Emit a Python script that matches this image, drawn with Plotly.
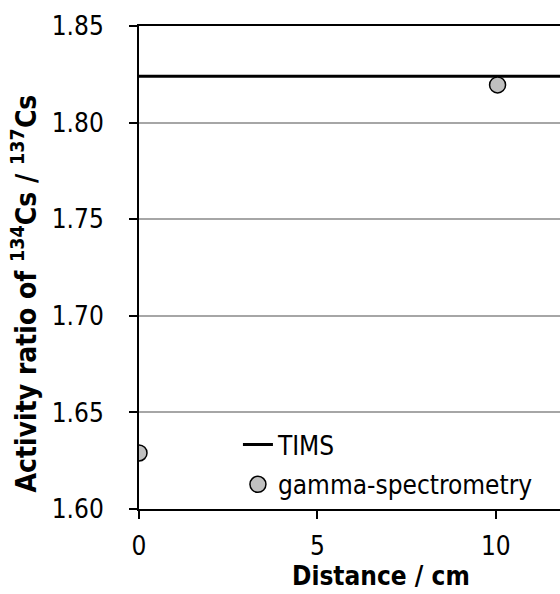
import plotly.graph_objects as go

distance_cm = [0.0, 10.05]
gamma_ratio = [1.629, 1.8195]
tims_x = [0.0, 12.0]
tims_ratio = [1.824, 1.824]
x_ticks = [0, 5, 10]
y_ticks = [1.60, 1.65, 1.70, 1.75, 1.80, 1.85]
y_labels = ["1.60", "1.65", "1.70", "1.75", "1.80", "1.85"]

FONT = "DejaVu Sans Condensed, DejaVu Sans, sans-serif"

fig = go.Figure()
fig.add_trace(go.Scatter(x=tims_x, y=tims_ratio, mode="lines", name="TIMS", legendgroup="a",
                         line=dict(color="black", width=3)))
fig.add_trace(go.Scatter(x=distance_cm, y=gamma_ratio, mode="markers", name="gamma-spectrometry",
                         legendgroup="b",
                         marker=dict(size=16, color="#c0c0c0", line=dict(color="black", width=1.5))))

fig.update_layout(
    width=560, height=594,
    margin=dict(l=139, r=0, t=26, b=85),
    paper_bgcolor="white", plot_bgcolor="white",
    font=dict(family=FONT, size=26, color="black"),
    showlegend=True,
    legend=dict(x=0.235, y=0.182, xanchor="left", yanchor="top", bgcolor="rgba(0,0,0,0)",
                font=dict(size=26), tracegroupgap=3, itemwidth=30),
    xaxis=dict(range=[0, 11.8], tickvals=x_ticks, ticks="outside", ticklen=8, tickwidth=1.5,
               tickcolor="black", showline=True, linecolor="black", linewidth=2, mirror=True,
               showgrid=False, zeroline=False, ticklabelstandoff=5,
               tickfont=dict(size=26)),
    yaxis=dict(range=[1.60, 1.85], tickvals=y_ticks, ticktext=y_labels, ticks="outside", ticklen=8,
               tickwidth=1.5, tickcolor="black", showline=True, linecolor="black", linewidth=2,
               showgrid=True, gridcolor="#a6a6a6", gridwidth=1.5, zeroline=False,
               ticklabelstandoff=20, tickfont=dict(size=26)),
    annotations=[
        dict(text="<b>Distance / cm</b>", xref="paper", yref="paper", x=0.575, y=-0.174,
             xanchor="center", yanchor="bottom", showarrow=False, font=dict(size=26)),
        dict(text="<b>Activity ratio of <sup>134</sup>Cs / <sup>137</sup>Cs</b>", xref="paper", yref="paper",
             x=-0.271, y=0.446, xanchor="center", yanchor="middle", textangle=-90, showarrow=False,
             font=dict(size=28)),
    ],
)

fig.write_html("out.html")
